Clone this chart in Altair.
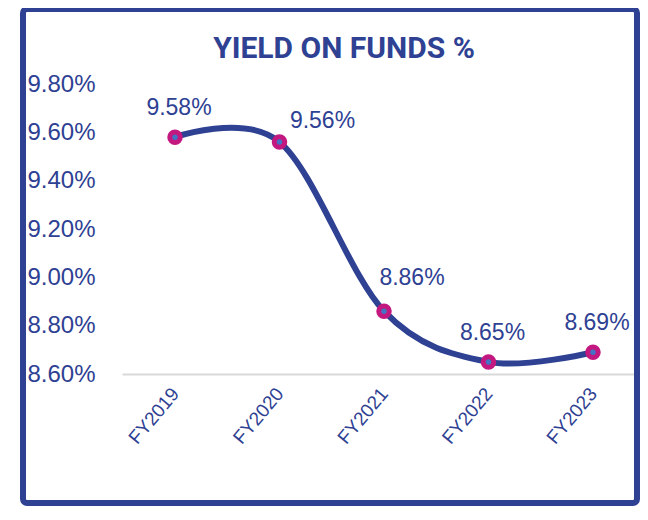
import altair as alt
import pandas as pd

years = ["FY2019", "FY2020", "FY2021", "FY2022", "FY2023"]
yields = [9.58, 9.56, 8.86, 8.65, 8.69]
y_ticks = [8.6, 8.8, 9.0, 9.2, 9.4, 9.6, 9.8]
title_text = "YIELD ON FUNDS %"

BLUE = "#2E4193"
MAGENTA = "#C2187F"
FILL = "#4472C4"
FONT = "Liberation Sans"

df = pd.DataFrame({"year": years, "value": yields})
df["label"] = [f"{v:.2f}%" for v in yields]

x = alt.X(
    "year:N",
    sort=years,
    scale=alt.Scale(type="point", padding=0.4785, align=0.53),
    axis=alt.Axis(
        title=None, labelAngle=-50, labelAlign="right", labelBaseline="middle",
        labelFontSize=19, labelColor=BLUE, labelFont=FONT, ticks=False, tickSize=0,
        domainColor="#D9D9D9", domainWidth=2, labelPadding=16, grid=False,
    ),
)
y = alt.Y(
    "value:Q",
    scale=alt.Scale(domain=[8.6, 9.8], nice=False, zero=False),
    axis=alt.Axis(
        title=None, values=y_ticks, labelExpr="format(datum.value, '.2f') + '%'",
        grid=False, domain=False, ticks=False, tickSize=0, labelAlign="left",
        labelPadding=95, labelFontSize=24, labelBaseline="middle", labelColor=BLUE,
        labelFont=FONT,
    ),
)

base = alt.Chart(df)

line = base.mark_line(color=BLUE, strokeWidth=6, interpolate="cardinal").encode(x=x, y=y)
points = base.mark_point(
    shape="circle", filled=True, fill=FILL, stroke=MAGENTA, strokeWidth=5, size=110, opacity=1
).encode(x=x, y=y)

lab_default = base.transform_filter(
    alt.FieldOneOfPredicate(field="year", oneOf=["FY2019", "FY2022", "FY2023"])
).mark_text(fontSize=23, font=FONT, color=BLUE, dy=-22, dx=4, baseline="alphabetic").encode(
    x=x, y=y, text="label:N")
lab_2020 = base.transform_filter(alt.datum.year == "FY2020").mark_text(
    fontSize=23, font=FONT, color=BLUE, dx=43, dy=-14, baseline="alphabetic").encode(
    x=x, y=y, text="label:N")
lab_2021 = base.transform_filter(alt.datum.year == "FY2021").mark_text(
    fontSize=23, font=FONT, color=BLUE, dx=28, dy=-26, baseline="alphabetic").encode(
    x=x, y=y, text="label:N")

one = pd.DataFrame({"t": [title_text]})
title = alt.Chart(one).mark_text(
    font="Roboto", fontSize=30, fontWeight="bold", color=BLUE,
    align="center", baseline="alphabetic",
).encode(x=alt.value(222), y=alt.value(-26), text="t:N")

frame = alt.Chart(one).mark_rect(
    filled=False, stroke=BLUE, strokeWidth=6, cornerRadius=4
).encode(x=alt.value(-99), x2=alt.value(515), y=alt.value(-75), y2=alt.value(419))

chart = alt.layer(frame, line, points, lab_default, lab_2020, lab_2021, title).properties(
    width=518, height=290,
    autosize=alt.AutoSizeParams(type="none"),
    padding={"left": 114, "top": 76, "right": 0, "bottom": 132},
    background="white",
).configure_view(stroke=None)

chart.save("out.html", embed_options={"renderer": "svg", "actions": False})
